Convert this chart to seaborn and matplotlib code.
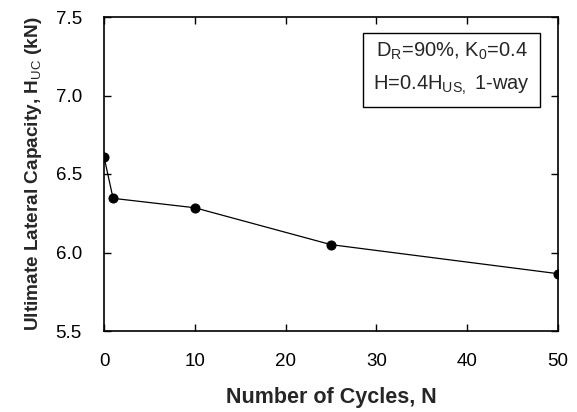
import matplotlib
matplotlib.use("Agg")
import matplotlib.pyplot as plt
import seaborn as sns
import pandas as pd

cycles = [0, 1, 10, 25, 50]
capacity = [6.61, 6.345, 6.285, 6.05, 5.865]
x_ticks = [0, 10, 20, 30, 40, 50]
y_ticks = [5.5, 6.0, 6.5, 7.0, 7.5]

sns.set_style("ticks")
plt.rcParams['font.family'] = ['Liberation Sans', 'DejaVu Sans']
plt.rcParams['mathtext.fontset'] = 'custom'
plt.rcParams['mathtext.rm'] = 'Liberation Sans'
plt.rcParams['mathtext.bf'] = 'Liberation Sans:bold'

df = pd.DataFrame({"N": cycles, "H": capacity})

fig = plt.figure(figsize=(5.77, 4.12), dpi=100)
ax = fig.add_axes([104/577, 1 - 331/412, (558-104)/577, (331-17)/412])
sns.lineplot(data=df, x="N", y="H", ax=ax, color="black", linewidth=0.9,
             marker="o", markersize=6.5, markeredgecolor="black", markerfacecolor="black")

ax.set_xlim(0, 50)
ax.set_ylim(5.5, 7.5)
ax.set_xticks(x_ticks)
ax.set_yticks(y_ticks)
ax.set_yticklabels([f"{v:.1f}" for v in y_ticks])
ax.tick_params(direction="in", top=True, right=True, length=5, width=1,
               labelsize=13.5, colors="black")
ax.tick_params(axis="y", pad=16)
ax.tick_params(axis="x", pad=16)
for s in ax.spines.values():
    s.set_linewidth(1.2)
    s.set_color("black")

ax.set_xlabel("Number of Cycles, N", fontsize=15.5, fontweight="bold", labelpad=12)
ax.set_ylabel(r"Ultimate Lateral Capacity, H$_\mathrm{UC}$ (kN)", fontsize=13.7, fontweight="bold", labelpad=8)

ax.text(0.766, 0.834, r"D$_\mathrm{R}$=90%, K$_\mathrm{0}$=0.4" + "\n" + r"H=0.4H$_\mathrm{US,}$ 1-way",
        transform=ax.transAxes, ha="center", va="center", fontsize=14.5, linespacing=1.75,
        bbox=dict(boxstyle="square,pad=0.5", facecolor="white", edgecolor="black", linewidth=1))

fig.savefig("out.png", dpi=100)
